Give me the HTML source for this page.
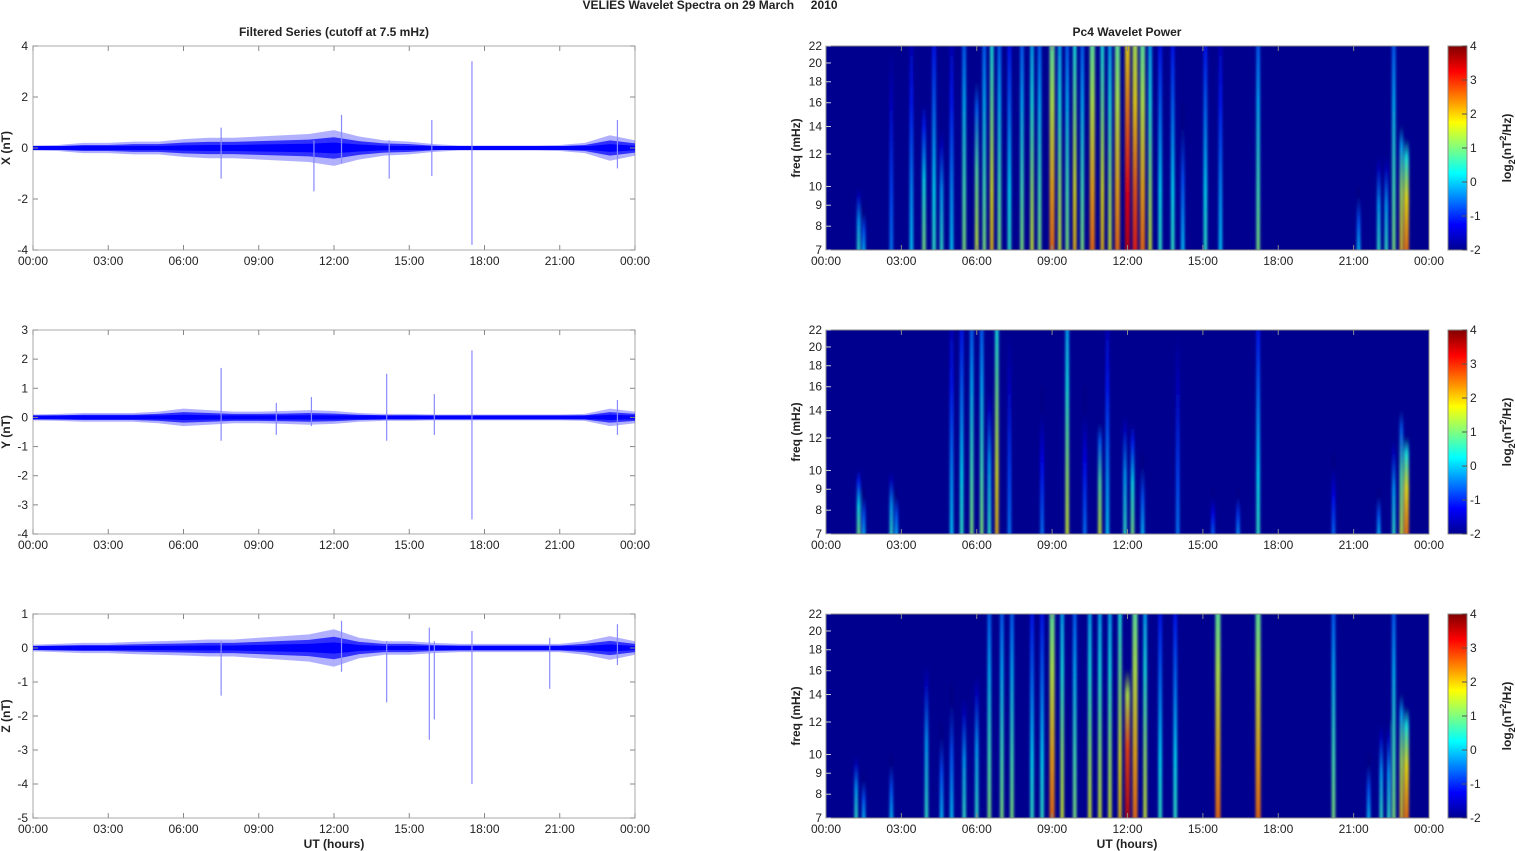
<!DOCTYPE html>
<html><head><meta charset="utf-8"><style>
html,body{margin:0;padding:0;background:#fff;width:1515px;height:851px;overflow:hidden}
svg{display:block;font-family:"Liberation Sans",Arial,sans-serif}
</style></head><body>
<svg id="fig" width="1515" height="851" viewBox="0 0 1515 851">
<defs id="defs">
<filter id="blur" x="-50%" y="-5%" width="200%" height="110%"><feGaussianBlur stdDeviation="1.4 3"/></filter>
<linearGradient id="cbar" x1="0" y1="1" x2="0" y2="0">
<stop offset="0" stop-color="#00008f"/><stop offset="0.125" stop-color="#0000ff"/><stop offset="0.375" stop-color="#00ffff"/><stop offset="0.625" stop-color="#ffff00"/><stop offset="0.875" stop-color="#ff0000"/><stop offset="1" stop-color="#800000"/>
</linearGradient>
</defs>
<text x="710" y="9" font-size="12" font-weight="bold" text-anchor="middle" fill="#222" style="white-space:pre">VELIES Wavelet Spectra on 29 March     2010</text>
<text x="334" y="36" font-size="12" font-weight="bold" text-anchor="middle" fill="#222">Filtered Series (cutoff at 7.5 mHz)</text>
<text x="1127" y="36" font-size="12" font-weight="bold" text-anchor="middle" fill="#222">Pc4 Wavelet Power</text>
</svg>
<script>
// ---- time series data (hourly envelope amplitude, nT) ----
const hours = [0,1,2,3,4,5,6,7,8,9,10,11,12,13,14,15,16,17,18,19,20,21,22,23,24];
const ampX = [0.1,0.12,0.2,0.2,0.25,0.25,0.35,0.4,0.4,0.45,0.5,0.55,0.7,0.45,0.3,0.25,0.15,0.1,0.1,0.1,0.1,0.12,0.2,0.5,0.3];
const ampY = [0.1,0.12,0.15,0.15,0.15,0.2,0.3,0.25,0.2,0.2,0.22,0.25,0.22,0.15,0.12,0.12,0.1,0.1,0.1,0.1,0.1,0.1,0.12,0.3,0.2];
const ampZ = [0.1,0.12,0.15,0.15,0.18,0.2,0.22,0.25,0.25,0.3,0.35,0.4,0.55,0.3,0.2,0.2,0.15,0.12,0.12,0.12,0.12,0.12,0.2,0.35,0.2];
// spikes: time (h), top value, bottom value
const spikeTX = [7.5,11.2,12.3,14.2,15.9,17.5,23.3];
const spikeHiX = [0.8,0.3,1.3,0.3,1.1,3.4,1.1];
const spikeLoX = [-1.2,-1.7,-0.6,-1.2,-1.1,-3.8,-0.8];
const spikeTY = [7.5,9.7,11.1,14.1,16.0,17.5,23.3];
const spikeHiY = [1.7,0.5,0.7,1.5,0.8,2.3,0.6];
const spikeLoY = [-0.8,-0.6,-0.3,-0.8,-0.6,-3.5,-0.6];
const spikeTZ = [7.5,12.3,14.1,15.8,16.0,17.5,20.6,23.3];
const spikeHiZ = [0.2,0.8,0.2,0.6,0.2,0.5,0.3,0.7];
const spikeLoZ = [-1.4,-0.7,-1.6,-2.7,-2.1,-4.0,-1.2,-0.5];
// ---- wavelet streaks: time (h), power (log2), top freq (mHz) ----
const wTX = [1.3,1.5,2.6,3.4,3.9,4.3,4.6,5.0,5.5,6.0,6.3,6.6,6.9,7.3,7.8,8.2,8.5,9.0,9.3,9.6,9.9,10.2,10.6,11.0,11.3,11.6,12.0,12.3,12.6,12.9,13.3,13.8,14.2,15.1,15.7,17.2,21.2,22.0,22.3,22.6,22.9,23.1];
const wPX = [1,0.5,0,0.5,1.5,1,1,0.5,1.5,2,1.5,2.5,1.5,1,1.5,2,1.5,3,2,1.5,2.5,1.5,3,2.5,2,3,4,3.5,3,2,1,1,0.5,1,0.5,1.5,0.5,1,1,1.5,2.5,3];
const wFX = [10,9,22,22,16,22,14,22,22,18,22,22,22,22,22,22,22,22,22,22,22,22,22,22,22,22,20,22,22,22,22,22,16,22,22,22,10,12,12,22,14,13];
const wTY = [1.3,1.5,2.6,2.8,5.0,5.4,5.8,6.2,6.5,6.8,7.3,8.6,9.6,10.3,10.9,11.2,11.9,12.2,12.6,14.0,15.4,16.4,17.2,20.2,22.0,22.6,22.9,23.1];
const wPY = [1.5,0.5,1,0.5,0.5,1,1.5,1.5,1,2.5,0,0,2,0,2,0.5,1,1.5,0.5,0,0,0.3,1,0,0.5,1,2,3];
const wFY = [10,9,10,9,22,22,20,22,16,22,22,16,22,16,13,22,14,13,11,22,9,9,22,11,9,12,14,12];
const wTZ = [1.2,1.5,2.6,4.0,4.6,5.0,5.5,6.0,6.5,7.0,7.4,8.2,8.6,9.0,9.4,9.9,10.5,10.9,11.3,11.7,12.0,12.3,12.7,13.3,13.9,15.6,17.2,20.2,21.6,22.1,22.4,22.6,22.9,23.1];
const wPZ = [1,0.5,0.5,1,0.5,0.5,1,1,1.5,1.5,1.5,1,1,3,2,1.5,2,2,2,2.5,4,3,2,1,1,3,3,1.5,0.5,1,1,1.5,2.5,3];
const wFZ = [10,9,10,17,12,15,14,16,22,22,22,22,22,22,22,22,22,22,22,22,16,22,22,22,22,22,22,22,10,12,12,22,14,13];
const xTickLabels = ["00:00","03:00","06:00","09:00","12:00","15:00","18:00","21:00","00:00"];
const freqTicks = [7,8,9,10,12,14,16,18,20,22];
const cbTicks = [-2,-1,0,1,2,3,4];

const NS="http://www.w3.org/2000/svg";
const fig=document.getElementById('fig');
const defs=document.getElementById('defs');
function el(tag,attrs,parent){const e=document.createElementNS(NS,tag);for(const k in attrs)e.setAttribute(k,attrs[k]);(parent||fig).appendChild(e);return e;}
function txt(x,y,s,size,anchor,parent,extra){const t=el('text',Object.assign({x:x,y:y,'font-size':size,'text-anchor':anchor,fill:'#222'},extra||{}),parent);t.textContent=s;return t;}

const tops=[46,330,614], H=204;
const LX0=33, LX1=635, RX0=826, RX1=1429;
function jet(p){const v=Math.max(0,Math.min(1,(p+2)/6));const c=x=>Math.round(255*Math.max(0,Math.min(1,1.5-Math.abs(4*v-x))));return `rgb(${c(3)},${c(2)},${c(1)})`;}
let gid=0;
function streakGrad(p,full){
  const id='sg'+(gid++);
  const lg=el('linearGradient',{id:id,x1:0,y1:0,x2:0,y2:1},defs);
  const stops=full?[[0,p-1.8],[0.3,p-1.2],[0.7,p-0.4],[1,p]]:[[0,-2],[0.15,p-2.2],[0.5,p-0.8],[1,p]];
  stops.forEach(s=>el('stop',{offset:s[0],'stop-color':jet(s[1])},lg));
  return 'url(#'+id+')';
}

function xAxis(g,x0,x1,y0,y1){
  for(let i=0;i<=8;i++){const x=x0+i*(x1-x0)/8;
    el('line',{x1:x,y1:y1,x2:x,y2:y1-5,stroke:'#888'},g);el('line',{x1:x,y1:y0,x2:x,y2:y0+5,stroke:'#888'},g);
    const t=txt(x,y1+15,xTickLabels[i],12,'middle',g);
    
    }
}

const series=[
 {amp:ampX,st:spikeTX,sh:spikeHiX,sl:spikeLoX,ymin:-4,ymax:4,step:2,lab:'X (nT)'},
 {amp:ampY,st:spikeTY,sh:spikeHiY,sl:spikeLoY,ymin:-4,ymax:3,step:1,lab:'Y (nT)'},
 {amp:ampZ,st:spikeTZ,sh:spikeHiZ,sl:spikeLoZ,ymin:-5,ymax:1,step:1,lab:'Z (nT)'}];
const waves=[[wTX,wPX,wFX],[wTY,wPY,wFY],[wTZ,wPZ,wFZ]];

series.forEach((s,i)=>{
  const y0=tops[i],y1=y0+H;
  const g=el('g',{},fig);
  
  
  const sx=t=>LX0+t/24*(LX1-LX0);
  const sy=v=>y0+(s.ymax-v)/(s.ymax-s.ymin)*H;
  el('rect',{x:LX0,y:y0,width:LX1-LX0,height:H,fill:'#fff',stroke:'#aaa'},g);
  function band(scale,fill,op){
    let up=[],dn=[];
    hours.forEach((h,k)=>{up.push(sx(h)+','+sy(s.amp[k]*scale));dn.unshift(sx(h)+','+sy(-s.amp[k]*scale));});
    return el('polygon',{points:up.concat(dn).join(' '),fill:fill,'fill-opacity':op},g);
  }
  const outer=band(1,'#5050ff',0.45);
  
  
  band(0.6,'#1a1aff',0.85);
  const core=band(0.3,'#0000ff',1);
  
  
  el('line',{x1:LX0,x2:LX1,y1:sy(0),y2:sy(0),stroke:'#0000ff','stroke-width':4},g);
  s.st.forEach((t,k)=>{
    const ln=el('line',{x1:sx(t),x2:sx(t),y1:sy(s.sh[k]),y2:sy(s.sl[k]),stroke:'#8a8aff','stroke-width':1.2},g);
    
    
  });
  for(let v=s.ymin;v<=s.ymax;v+=s.step){const y=sy(v);
    el('line',{x1:LX0,x2:LX0+5,y1:y,y2:y,stroke:'#888'},g);el('line',{x1:LX1,x2:LX1-5,y1:y,y2:y,stroke:'#888'},g);
    const t=txt(LX0-5,y+4,String(v),12,'end',g);
    
    }
  xAxis(g,LX0,LX1,y0,y1);
  const yl=txt(0,0,s.lab,12,'middle',g,{'font-weight':'bold',transform:`translate(10,${y0+H/2}) rotate(-90)`});
  
  

  // wavelet panel
  const w=waves[i];
  const gw=el('g',{},fig);
  
  
  const rx=t=>RX0+t/24*(RX1-RX0);
  const fy=f=>y0+(Math.log(22)-Math.log(f))/(Math.log(22)-Math.log(7))*H;
  el('rect',{x:RX0,y:y0,width:RX1-RX0,height:H,fill:'#00008f'},gw);
  const clip=el('clipPath',{id:'c'+i},gw);el('rect',{x:RX0,y:y0,width:RX1-RX0,height:H},clip);
  const sg=el('g',{'clip-path':`url(#c${i})`},gw);
  const bg=el('g',{filter:'url(#blur)'},sg);
  w[0].forEach((t,k)=>{
    const p=w[1][k],ft=fy(w[2][k]);
    const full=w[2][k]>=20;
    const top=full?y0-10:ft;
    const wd=p>2.5?5:3.5;
    const r=el('rect',{x:rx(t)-wd/2,y:top,width:wd,height:y1-top+6,fill:streakGrad(p-0.4,full),'fill-opacity':0.85},bg);
    
    
  });
  el('rect',{x:RX0,y:y0,width:RX1-RX0,height:H,fill:'none',stroke:'#888'},gw);
  freqTicks.forEach(f=>{const y=fy(f);
    el('line',{x1:RX0,x2:RX0+5,y1:y,y2:y,stroke:'#ccc'},gw);
    const t=txt(RX0-4,y+4,String(f),12,'end',gw);
    
    });
  xAxis(gw,RX0,RX1,y0,y1);
  const fl=txt(0,0,'freq (mHz)',12,'middle',gw,{'font-weight':'bold',transform:`translate(800,${y0+H/2}) rotate(-90)`});
  
  
  const cb=el('rect',{x:1448,y:y0,width:19,height:H,fill:'url(#cbar)',stroke:'#888'},gw);
  
  
  cbTicks.forEach(v=>{const y=y1-(v+2)/6*H;
    el('line',{x1:1467,x2:1462,y1:y,y2:y,stroke:'#555'},gw);
    const t=txt(1470,y+4,String(v),12,'start',gw);
    
    });
  const cl=el('text',{'font-size':12,'font-weight':'bold','text-anchor':'middle',fill:'#222',transform:`translate(1511,${y0+H/2}) rotate(-90)`},gw);
  
  
  cl.innerHTML='log<tspan font-size="9" dy="4">2</tspan><tspan dy="-4">(nT</tspan><tspan font-size="9" dy="-5">2</tspan><tspan dy="5">/Hz)</tspan>';
});
const ut1=txt(334,848,'UT (hours)',12,'middle',fig,{'font-weight':'bold'});


const ut2=txt(1127,848,'UT (hours)',12,'middle',fig,{'font-weight':'bold'});


</script>
</body></html>
